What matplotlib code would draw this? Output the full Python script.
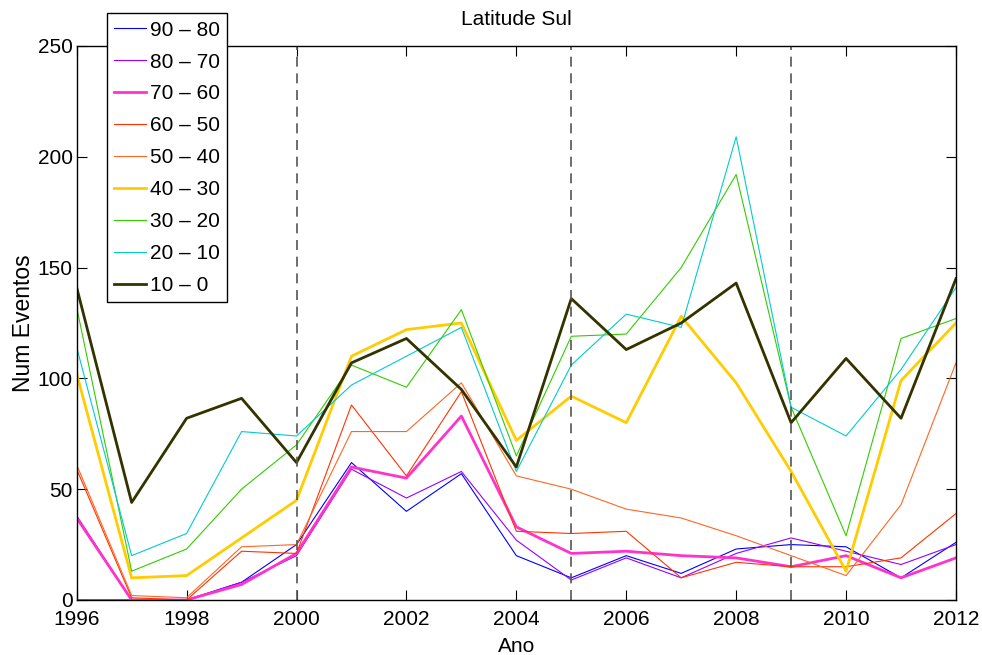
import numpy as np
import matplotlib
matplotlib.use('Agg')
import matplotlib.pyplot as plt

plt.rcParams['font.family'] = ['Liberation Sans', 'DejaVu Sans']

anos = np.arange(1996, 2013)
faixas = ['90 – 80', '80 – 70', '70 – 60', '60 – 50', '50 – 40',
          '40 – 30', '30 – 20', '20 – 10', '10 – 0']

# contagens, 1996..2012
s90_80 = [0, 0, 0, 8, 25, 62, 40, 57, 20, 10, 20, 12, 23, 25, 24, 10, 26]
s80_70 = [38, 0, 0, 8, 20, 59, 46, 58, 27, 9, 19, 10, 21, 28, 22, 16, 25]
s70_60 = [37, 0, 0, 7, 21, 60, 55, 83, 33, 21, 22, 20, 19, 15, 20, 10, 19]
s60_50 = [59, 1, 0, 22, 21, 88, 56, 94, 31, 30, 31, 10, 17, 15, 15, 19, 39]
s50_40 = [61, 2, 1, 24, 25, 76, 76, 98, 56, 50, 41, 37, 29, 20, 11, 43, 107]
s40_30 = [102, 10, 11, 28, 45, 110, 122, 125, 72, 92, 80, 128, 98, 58, 13, 99, 125]
s30_20 = [132, 13, 23, 50, 70, 106, 96, 131, 65, 119, 120, 150, 192, 87, 29, 118, 127]
s20_10 = [114, 20, 30, 76, 74, 97, 110, 123, 58, 106, 129, 123, 209, 87, 74, 104, 141]
s10_0 = [141, 44, 82, 91, 62, 107, 118, 95, 60, 136, 113, 125, 143, 80, 109, 82, 145]
series = [s90_80, s80_70, s70_60, s60_50, s50_40, s40_30, s30_20, s20_10, s10_0]

cores = ['#0000ff', '#9900ff', '#ff33cc', '#ff3300', '#ff6622',
         '#ffcc00', '#33cc00', '#00cccc', '#333300']
largura = [0.8, 0.8, 2.0, 0.8, 0.8, 2.0, 0.8, 0.8, 2.0]
marcos = [2000, 2005, 2009]

fig = plt.figure(figsize=(9.82, 6.55), dpi=100)
ax = fig.add_axes([0.0781, 0.084, 0.8954, 0.8458])

for v, lab, c, lw in zip(series, faixas, cores, largura):
    ax.plot(anos, v, color=c, lw=lw, label=lab)
for m in marcos:
    ax.axvline(m, color='#555555', lw=1.2, ls=(0, (6, 4)))

ax.set_xlim(1996, 2012)
ax.set_ylim(0, 250)
ax.set_xticks(np.arange(1996, 2013, 2))
ax.set_yticks(np.arange(0, 251, 50))
ax.tick_params(direction='in', length=7, width=0.8, top=True, right=True,
               labelsize=15)
ax.tick_params(axis='x', pad=7)
ax.tick_params(axis='y', pad=3)
for sp in ax.spines.values():
    sp.set_linewidth(1.0)
ax.set_title('Latitude Sul', fontsize=15, pad=15)
ax.set_xlabel('Ano', fontsize=15, labelpad=6)
ax.set_ylabel('Num Eventos', fontsize=16.5, labelpad=2)

leg = ax.legend(loc='upper left', bbox_to_anchor=(0.0345, 1.059), fontsize=15,
                frameon=True, fancybox=False, edgecolor='black', framealpha=1,
                handlelength=1.5, handletextpad=0.2, labelspacing=0.62,
                borderpad=0.35, borderaxespad=0)
leg.get_frame().set_linewidth(1.0)
leg.set_zorder(10)

fig.savefig('out.png', dpi=100)
